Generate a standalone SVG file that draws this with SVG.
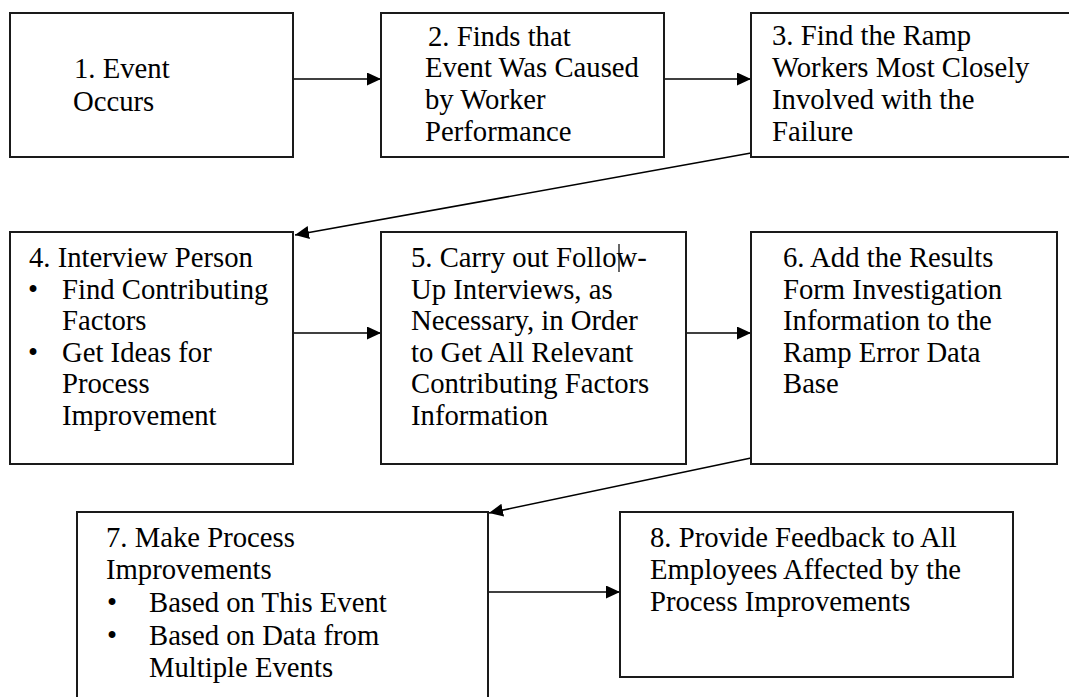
<svg xmlns="http://www.w3.org/2000/svg" width="1069" height="697" viewBox="0 0 1069 697">
  <style>
    .box { fill: #fff; stroke: #1a1a1a; stroke-width: 2; }
    .lbl { font-family: "Liberation Serif", "Times New Roman", serif; font-size: 28.7px; fill: #000; }
    .conn { stroke: #000; stroke-width: 1.6; fill: none; marker-end: url(#arrow); }
  </style>
  <defs>
    <marker id="arrow" markerUnits="userSpaceOnUse" markerWidth="14" markerHeight="13" refX="14" refY="6.5" orient="auto">
      <path d="M0,0 L14,6.5 L0,13 Z" fill="#000"/>
    </marker>
  </defs>
  <rect width="1069" height="697" fill="#fff"/>

  <!-- Connectors between steps -->
  <g id="connectors">
    <line class="conn" x1="293" y1="79" x2="381" y2="79"/>
    <line class="conn" x1="664" y1="79" x2="751" y2="79"/>
    <line class="conn" x1="751" y1="153" x2="295" y2="235"/>
    <line class="conn" x1="293" y1="333" x2="381" y2="333"/>
    <line class="conn" x1="686" y1="333" x2="751" y2="333"/>
    <line class="conn" x1="751" y1="458" x2="489" y2="513"/>
    <line class="conn" x1="488" y1="592" x2="620" y2="592"/>
  </g>

  <g id="step1">
    <rect class="box" x="10" y="13" width="283" height="144"/>
    <text class="lbl" x="74" y="78">1. Event</text>
    <text class="lbl" x="73" y="111">Occurs</text>
  </g>

  <g id="step2">
    <rect class="box" x="381" y="13" width="283" height="144"/>
    <text class="lbl" x="428" y="46">2. Finds that</text>
    <text class="lbl" x="425" y="77">Event Was Caused</text>
    <text class="lbl" x="425" y="109">by Worker</text>
    <text class="lbl" x="425" y="141">Performance</text>
  </g>

  <g id="step3">
    <rect class="box" x="751" y="13" width="330" height="144"/>
    <text class="lbl" x="772" y="45">3. Find the Ramp</text>
    <text class="lbl" x="772" y="77">Workers Most Closely</text>
    <text class="lbl" x="772" y="109">Involved with the</text>
    <text class="lbl" x="772" y="141">Failure</text>
  </g>

  <g id="step4">
    <rect class="box" x="10" y="232" width="283" height="232"/>
    <text class="lbl" x="29" y="267">4. Interview Person</text>
    <text class="lbl" x="28" y="298.5">•</text>
    <text class="lbl" x="62" y="298.5">Find Contributing</text>
    <text class="lbl" x="62" y="330">Factors</text>
    <text class="lbl" x="28" y="361.5">•</text>
    <text class="lbl" x="62" y="361.5">Get Ideas for</text>
    <text class="lbl" x="62" y="393">Process</text>
    <text class="lbl" x="62" y="424.5">Improvement</text>
  </g>

  <g id="step5">
    <rect class="box" x="381" y="232" width="305" height="232"/>
    <text class="lbl" x="411" y="267">5. Carry out Follow-</text>
    <line x1="619" y1="244" x2="619" y2="272" stroke="#000" stroke-width="1.2"/>
    <text class="lbl" x="411" y="298.5">Up Interviews, as</text>
    <text class="lbl" x="411" y="330">Necessary, in Order</text>
    <text class="lbl" x="411" y="361.5">to Get All Relevant</text>
    <text class="lbl" x="411" y="393">Contributing Factors</text>
    <text class="lbl" x="411" y="424.5">Information</text>
  </g>

  <g id="step6">
    <rect class="box" x="751" y="232" width="306" height="232"/>
    <text class="lbl" x="783" y="267">6. Add the Results</text>
    <text class="lbl" x="783" y="298.5">Form Investigation</text>
    <text class="lbl" x="783" y="330">Information to the</text>
    <text class="lbl" x="783" y="361.5">Ramp Error Data</text>
    <text class="lbl" x="783" y="393">Base</text>
  </g>

  <g id="step7">
    <rect class="box" x="77" y="512" width="411" height="200"/>
    <text class="lbl" x="106" y="547">7. Make Process</text>
    <text class="lbl" x="106" y="579">Improvements</text>
    <text class="lbl" x="107" y="612">•</text>
    <text class="lbl" x="149" y="612">Based on This Event</text>
    <text class="lbl" x="107" y="645">•</text>
    <text class="lbl" x="149" y="645">Based on Data from</text>
    <text class="lbl" x="149" y="677">Multiple Events</text>
  </g>

  <g id="step8">
    <rect class="box" x="620" y="512" width="393" height="165"/>
    <text class="lbl" x="650" y="547">8. Provide Feedback to All</text>
    <text class="lbl" x="650" y="579">Employees Affected by the</text>
    <text class="lbl" x="650" y="611">Process Improvements</text>
  </g>
</svg>
